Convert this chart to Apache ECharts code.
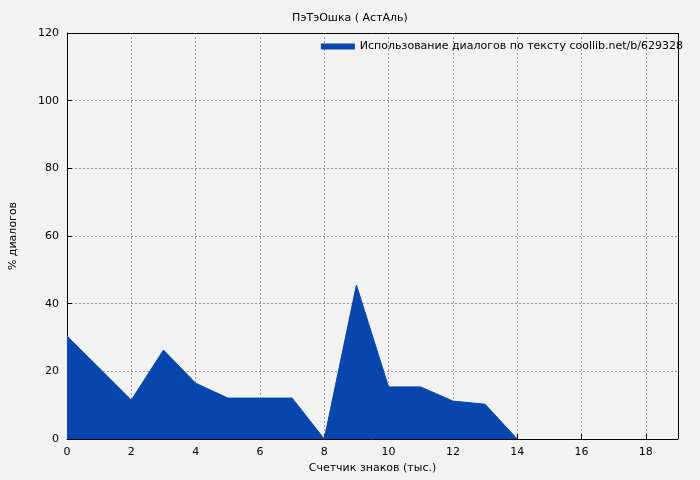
<!DOCTYPE html>
<html><head><meta charset="utf-8">
<script src="https://cdn.jsdelivr.net/npm/echarts@6/dist/echarts.min.js"></script>
<style>body{margin:0;background:#f2f2f2}#c{width:700px;height:480px}</style>
</head><body><div id="c"></div>
<script>
var xs = [0,1,2,3,4,5,6,7,8,9,10,11,12,13,14];
var vals = [30.4,21,11.5,26.3,16.5,12.1,12.1,12.1,0,45.5,15.4,15.4,11.2,10.3,0];
var seriesName = 'Использование диалогов по тексту coollib.net/b/629328';
var color = '#0646ad';
var chart = echarts.init(document.getElementById('c'));
var font = 'DejaVu Sans';
var split = {show:true,lineStyle:{color:'#999',type:[2,2],width:1}};
chart.setOption({
  backgroundColor:'#f2f2f2',
  animation:false,
  textStyle:{fontFamily:font},
  title:{text:'ПэТэОшка ( АстАль)',left:'center',top:8,textStyle:{fontSize:11,fontWeight:'normal',color:'#000',fontFamily:font}},
  legend:{right:12,top:36,itemWidth:34,itemHeight:6,icon:'rect',itemGap:6,align:'left',
    textStyle:{fontSize:11,color:'#000',fontFamily:font},data:[seriesName]},
  grid:{left:61,right:22,top:33,bottom:41},
  xAxis:{type:'value',min:0,max:19,interval:2,name:'Счетчик знаков (тыс.)',nameLocation:'middle',nameGap:24,
    nameTextStyle:{fontSize:11,color:'#000'},
    axisLine:{show:true,lineStyle:{color:'#000'}},axisTick:{inside:true,lineStyle:{color:'#000'}},
    axisLabel:{fontSize:11,color:'#000',showMaxLabel:false},splitLine:split},
  yAxis:{type:'value',min:0,max:120,interval:20,name:'% диалогов',nameLocation:'middle',nameGap:48,
    nameTextStyle:{fontSize:11,color:'#000'},
    axisLine:{show:true,lineStyle:{color:'#000'}},axisTick:{inside:true,lineStyle:{color:'#000'}},
    axisLabel:{fontSize:11,color:'#000'},splitLine:split},
  series:[
    {name:seriesName,type:'line',data:xs.map(function(x,i){return [x,vals[i]];}),
     symbol:'none',color:color,lineStyle:{width:1,color:color},areaStyle:{color:color,opacity:1}},
    {type:'line',data:[],silent:true,markLine:{silent:true,symbol:'none',label:{show:false},
     lineStyle:{color:'#000',type:'solid',width:1},data:[{xAxis:19},{yAxis:120}]}}
  ]
});
</script></body></html>
